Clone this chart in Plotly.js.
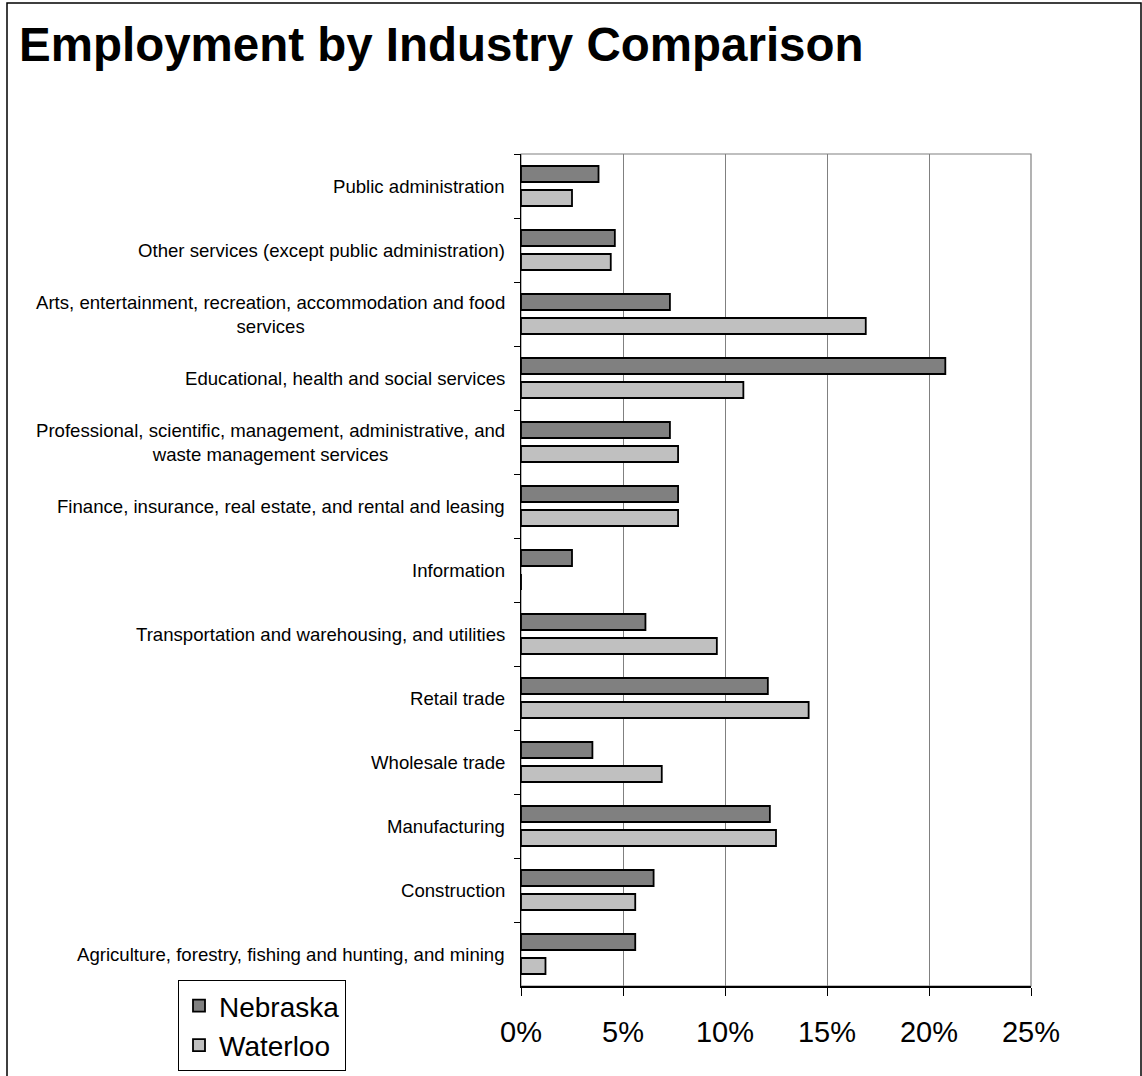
<!DOCTYPE html>
<html>
<head>
<meta charset="utf-8">
<script src="https://cdn.plot.ly/plotly-3.0.1.min.js"></script>
<style>
  html, body { margin: 0; padding: 0; background: #ffffff; }
  #chart { width: 1142px; height: 1076px; }
</style>
</head>
<body>
<div id="chart"></div>
<script>
// ---- Data (top-to-bottom order as shown in the chart) ----
var categories = [
  "Public administration",
  "Other services (except public administration)",
  "Arts, entertainment, recreation, accommodation and food services",
  "Educational, health and social services",
  "Professional, scientific, management, administrative, and waste management services",
  "Finance, insurance, real estate, and rental and leasing",
  "Information",
  "Transportation and warehousing, and utilities",
  "Retail trade",
  "Wholesale trade",
  "Manufacturing",
  "Construction",
  "Agriculture, forestry, fishing and hunting, and mining"
];
var categoryLabels = [
  "Public administration",
  "Other services (except public administration)",
  "Arts, entertainment, recreation, accommodation and food<br>services",
  "Educational, health and social services",
  "Professional, scientific, management, administrative, and<br>waste management services",
  "Finance, insurance, real estate, and rental and leasing",
  "Information",
  "Transportation and warehousing, and utilities",
  "Retail trade",
  "Wholesale trade",
  "Manufacturing",
  "Construction",
  "Agriculture, forestry, fishing and hunting, and mining"
];
var nebraska = [3.8, 4.6, 7.3, 20.8, 7.3, 7.7, 2.5, 6.1, 12.1, 3.5, 12.2, 6.5, 5.6];
var waterloo = [2.5, 4.4, 16.9, 10.9, 7.7, 7.7, 0, 9.6, 14.1, 6.9, 12.5, 5.6, 1.2];
var seriesNames = ["Nebraska", "Waterloo"];
var xTickValues = [0, 5, 10, 15, 20, 25];
var xTickLabels = ["0%", "5%", "10%", "15%", "20%", "25%"];

// ---- Layout geometry ----
var W = 1142, H = 1076;
var M = { l: 521, r: 111, t: 154, b: 90 };
var PW = W - M.l - M.r, PH = H - M.t - M.b;
function px2x(px) { return (px - M.l) / PW; }
function px2y(py) { return (H - M.b - py) / PH; }

var FONT = "Liberation Sans, Arial, sans-serif";

var traces = [
  {
    type: "bar", orientation: "h", name: seriesNames[0],
    y: categories, x: nebraska,
    legendgroup: "a",
    marker: { color: "#808080", line: { color: "#000000", width: 1.8 } },
    hoverinfo: "skip"
  },
  {
    type: "bar", orientation: "h", name: seriesNames[1],
    y: categories, x: waterloo,
    legendgroup: "b",
    marker: { color: "#c0c0c0", line: { color: "#000000", width: 1.8 } },
    hoverinfo: "skip"
  }
];

var annotations = categories.map(function (c, i) {
  return {
    x: 0, xref: "paper", xanchor: "right", xshift: -14,
    y: c, yref: "y", yanchor: "middle",
    text: categoryLabels[i], align: "center", showarrow: false,
    font: { family: FONT, size: 18.6, color: "#000000" }
  };
});

var layout = {
  width: W, height: H,
  margin: { l: M.l, r: M.r, t: M.t, b: M.b, autoexpand: false },
  paper_bgcolor: "#ffffff",
  plot_bgcolor: "#ffffff",
  font: { family: FONT, color: "#000000" },
  title: {
    text: "Employment by Industry Comparison",
    font: { family: FONT, size: 47.5, weight: "bold", color: "#000000" },
    x: 19 / W, xref: "container", xanchor: "left",
    y: 1 - 44 / H, yref: "container", yanchor: "middle"
  },
  barmode: "group",
  bargap: 0.25,
  bargroupgap: 0.333,
  showlegend: true,
  legend: {
    x: px2x(178), y: px2y(980), xanchor: "left", yanchor: "top",
    bgcolor: "#ffffff", bordercolor: "#000000", borderwidth: 1,
    font: { family: FONT, size: 28, color: "#000000" },
    tracegroupgap: 5, traceorder: "normal"
  },
  xaxis: {
    range: [0, 25], tickmode: "array", tickvals: xTickValues, ticktext: xTickLabels,
    showgrid: true, gridcolor: "#808080", gridwidth: 1,
    zeroline: false,
    showline: true, linecolor: "#000000", linewidth: 1.5,
    ticks: "outside", ticklen: 8, tickcolor: "#000000", tickwidth: 1,
    ticklabelstandoff: 12,
    tickfont: { family: FONT, size: 29, color: "#000000" },
    fixedrange: true
  },
  yaxis: {
    type: "category", categoryorder: "array", categoryarray: categories,
    autorange: "reversed",
    showgrid: false, zeroline: false,
    showline: true, linecolor: "#000000", linewidth: 1.5,
    ticks: "outside", ticklen: 6, tickcolor: "#000000", tickwidth: 1,
    tickson: "boundaries",
    showticklabels: false,
    fixedrange: true
  },
  annotations: annotations,
  shapes: [
    // plot area border (gray, top & right visible)
    { type: "rect", xref: "paper", yref: "paper", x0: 0, x1: 1, y0: 0, y1: 1,
      line: { color: "#808080", width: 1.2 }, fillcolor: "rgba(0,0,0,0)", layer: "below" },
    // outer chart frame (left, top, right; bottom cut off)
    { type: "path", xref: "paper", yref: "paper",
      path: "M " + px2x(7) + "," + px2y(H + 20) +
            " L " + px2x(7) + "," + px2y(3) +
            " L " + px2x(1141) + "," + px2y(3) +
            " L " + px2x(1141) + "," + px2y(H + 20),
      line: { color: "#000000", width: 1.5 }, layer: "above" }
  ]
};

Plotly.newPlot("chart", traces, layout, { staticPlot: true, displayModeBar: false });
</script>
</body>
</html>
